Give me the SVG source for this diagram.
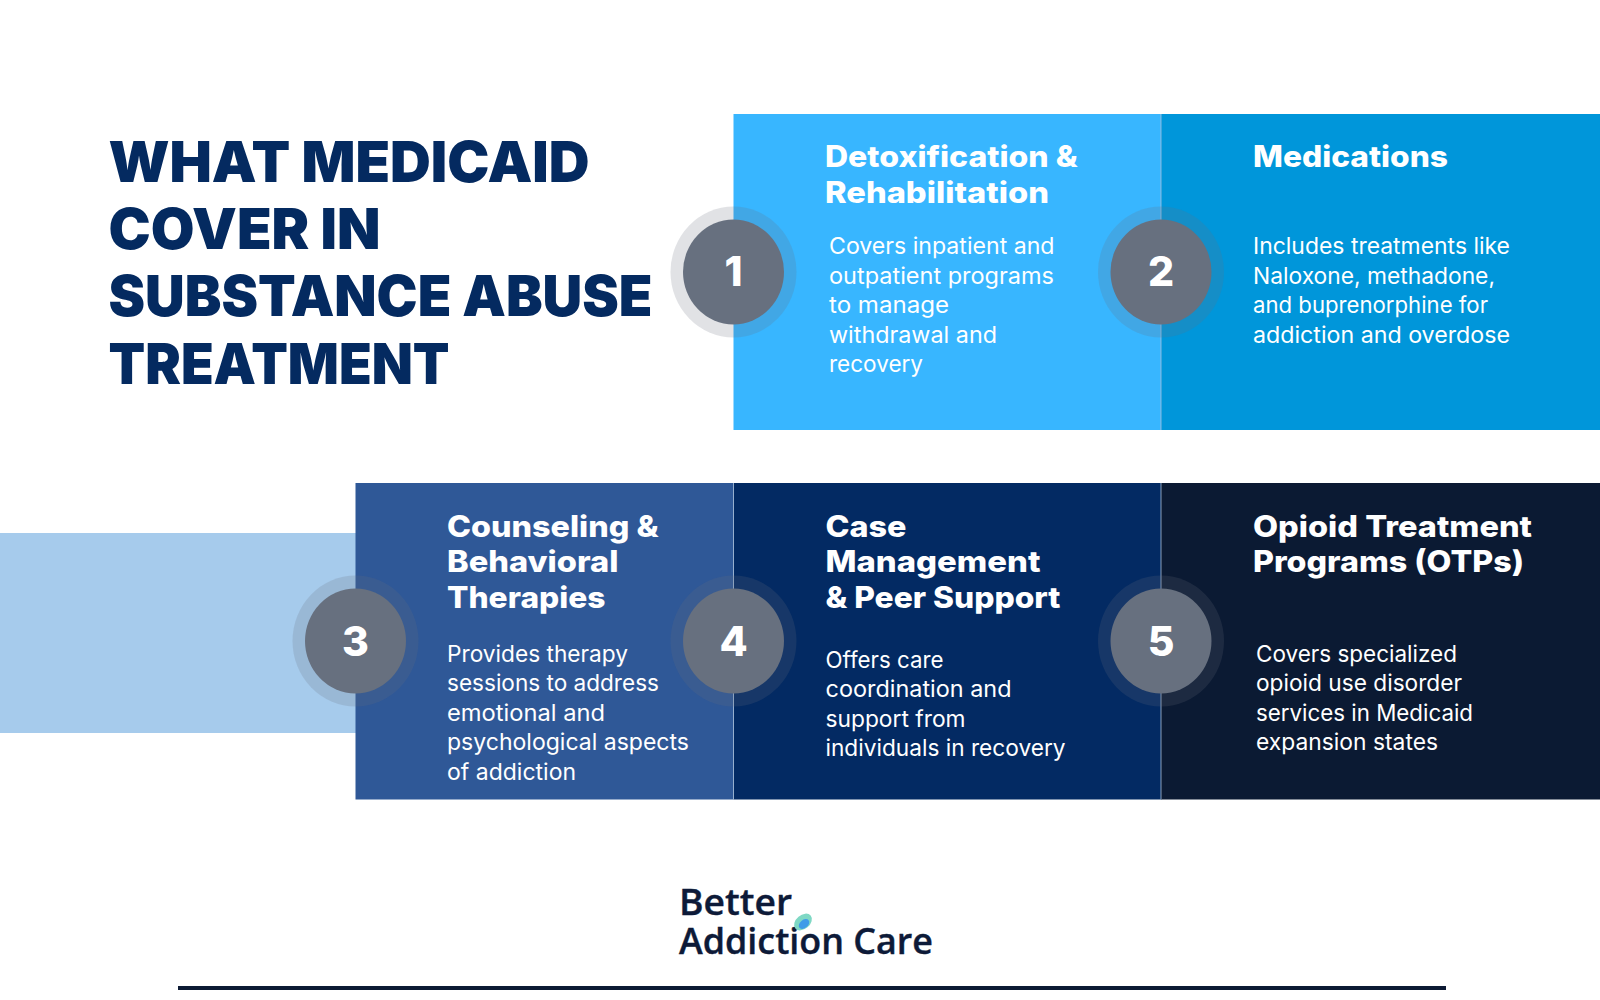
<svg xmlns="http://www.w3.org/2000/svg" width="1600" height="1000" viewBox="0 0 1600 1000">
<style>
text{font-family:Inter,"Noto Sans","Liberation Sans",sans-serif}
.h{font-size:57px;font-weight:900;fill:#042a60}
.t{font-size:29.500px;font-weight:800;fill:#fff}
.b{font-size:22.500px;font-weight:400;fill:#fff}
.n{font-size:41px;font-weight:800;fill:#fff;text-anchor:middle}
.halo{fill:#67707f;fill-opacity:.2}
.c{fill:#67707f}
.sep{stroke:#a9c0dc;stroke-width:1;stroke-opacity:.8}
.l{font-family:"Open Sans","Noto Sans",sans-serif;font-size:36px;font-weight:600;fill:#0d1a38;stroke:#0d1a38;stroke-width:.4}
</style>
<rect width="1600" height="1000" fill="#fff"/>
<g id="title">
<text class="h" x="108.500" y="182" textLength="481" lengthAdjust="spacingAndGlyphs">WHAT MEDICAID</text>
<text class="h" x="108.500" y="249" textLength="272" lengthAdjust="spacingAndGlyphs">COVER IN</text>
<text class="h" x="108.500" y="316" textLength="544" lengthAdjust="spacingAndGlyphs">SUBSTANCE ABUSE</text>
<text class="h" x="108.500" y="384" textLength="341" lengthAdjust="spacingAndGlyphs">TREATMENT</text>
</g>
<rect id="band" x="0" y="533" width="356" height="200" fill="#a6cbec"/>
<g id="card1"><rect x="733.500" y="114" width="428" height="316" fill="#38b6ff"/>
<text class="t" x="825" y="167" textLength="252.500" lengthAdjust="spacingAndGlyphs">Detoxification &amp;</text>
<text class="t" x="825" y="203" textLength="224" lengthAdjust="spacingAndGlyphs">Rehabilitation</text>
<text class="b" x="829" y="254" textLength="225.500" lengthAdjust="spacingAndGlyphs">Covers inpatient and</text>
<text class="b" x="829" y="284" textLength="225" lengthAdjust="spacingAndGlyphs">outpatient programs</text>
<text class="b" x="829" y="313" textLength="120" lengthAdjust="spacingAndGlyphs">to manage</text>
<text class="b" x="829" y="343" textLength="168" lengthAdjust="spacingAndGlyphs">withdrawal and</text>
<text class="b" x="829" y="372" textLength="94" lengthAdjust="spacingAndGlyphs">recovery</text></g>
<g id="card2"><rect x="1161" y="114" width="439" height="316" fill="#0096da"/>
<line class="sep" x1="1161" y1="114" x2="1161" y2="430"/>
<text class="t" x="1253" y="167" textLength="195" lengthAdjust="spacingAndGlyphs">Medications</text>
<text class="b" x="1253" y="254" textLength="257" lengthAdjust="spacingAndGlyphs">Includes treatments like</text>
<text class="b" x="1253" y="284" textLength="242" lengthAdjust="spacingAndGlyphs">Naloxone, methadone,</text>
<text class="b" x="1253" y="313" textLength="235" lengthAdjust="spacingAndGlyphs">and buprenorphine for</text>
<text class="b" x="1253" y="343" textLength="257" lengthAdjust="spacingAndGlyphs">addiction and overdose</text></g>
<g id="card3"><rect x="355.500" y="483" width="378" height="316.500" fill="#2f5897"/>
<text class="t" x="447" y="537" textLength="211.500" lengthAdjust="spacingAndGlyphs">Counseling &amp;</text>
<text class="t" x="447" y="572" textLength="171.500" lengthAdjust="spacingAndGlyphs">Behavioral</text>
<text class="t" x="447" y="608" textLength="158.500" lengthAdjust="spacingAndGlyphs">Therapies</text>
<text class="b" x="447" y="662" textLength="181" lengthAdjust="spacingAndGlyphs">Provides therapy</text>
<text class="b" x="447" y="691" textLength="212" lengthAdjust="spacingAndGlyphs">sessions to address</text>
<text class="b" x="447" y="721" textLength="158" lengthAdjust="spacingAndGlyphs">emotional and</text>
<text class="b" x="447" y="750" textLength="242" lengthAdjust="spacingAndGlyphs">psychological aspects</text>
<text class="b" x="447" y="780" textLength="129" lengthAdjust="spacingAndGlyphs">of addiction</text></g>
<g id="card4"><rect x="733.500" y="483" width="428" height="316.500" fill="#032a63"/>
<line class="sep" x1="733.500" y1="483" x2="733.500" y2="799.500"/>
<text class="t" x="825.500" y="537" textLength="81" lengthAdjust="spacingAndGlyphs">Case</text>
<text class="t" x="825.500" y="572" textLength="215" lengthAdjust="spacingAndGlyphs">Management</text>
<text class="t" x="825.500" y="608" textLength="235" lengthAdjust="spacingAndGlyphs">&amp; Peer Support</text>
<text class="b" x="825.500" y="668" textLength="118" lengthAdjust="spacingAndGlyphs">Offers care</text>
<text class="b" x="825.500" y="697" textLength="186" lengthAdjust="spacingAndGlyphs">coordination and</text>
<text class="b" x="825.500" y="727" textLength="140" lengthAdjust="spacingAndGlyphs">support from</text>
<text class="b" x="825.500" y="756" textLength="240" lengthAdjust="spacingAndGlyphs">individuals in recovery</text></g>
<g id="card5"><rect x="1161" y="483" width="439" height="316.500" fill="#0b1a33"/>
<line class="sep" x1="1161" y1="483" x2="1161" y2="799.500"/>
<text class="t" x="1253" y="537" textLength="279" lengthAdjust="spacingAndGlyphs">Opioid Treatment</text>
<text class="t" x="1253" y="572" textLength="271" lengthAdjust="spacingAndGlyphs">Programs (OTPs)</text>
<text class="b" x="1256" y="662" textLength="201" lengthAdjust="spacingAndGlyphs">Covers specialized</text>
<text class="b" x="1256" y="691" textLength="206" lengthAdjust="spacingAndGlyphs">opioid use disorder</text>
<text class="b" x="1256" y="721" textLength="217" lengthAdjust="spacingAndGlyphs">services in Medicaid</text>
<text class="b" x="1256" y="750" textLength="182" lengthAdjust="spacingAndGlyphs">expansion states</text></g>
<g id="badge1"><ellipse class="halo" cx="733.500" cy="272" rx="63" ry="65.500"/><ellipse class="c" cx="733.500" cy="272" rx="50.500" ry="52.500"/><text class="n" x="733.500" y="286">1</text></g>
<g id="badge2"><ellipse class="halo" cx="1161" cy="272" rx="63" ry="65.500"/><ellipse class="c" cx="1161" cy="272" rx="50.500" ry="52.500"/><text class="n" x="1161" y="286">2</text></g>
<g id="badge3"><ellipse class="halo" cx="355.500" cy="641" rx="63" ry="65.500"/><ellipse class="c" cx="355.500" cy="641" rx="50.500" ry="52.500"/><text class="n" x="355.500" y="656">3</text></g>
<g id="badge4"><ellipse class="halo" cx="733.500" cy="641" rx="63" ry="65.500"/><ellipse class="c" cx="733.500" cy="641" rx="50.500" ry="52.500"/><text class="n" x="733.500" y="656">4</text></g>
<g id="badge5"><ellipse class="halo" cx="1161" cy="641" rx="63" ry="65.500"/><ellipse class="c" cx="1161" cy="641" rx="50.500" ry="52.500"/><text class="n" x="1161" y="656">5</text></g>
<g id="logo">
<text class="l" x="679" y="915" textLength="113" lengthAdjust="spacingAndGlyphs">Better</text>
<text class="l" x="679" y="954" textLength="254" lengthAdjust="spacingAndGlyphs">Addiction Care</text>
<ellipse cx="803" cy="922" rx="10" ry="7" transform="rotate(-40 803 922)" fill="#7fd8c4"/>
<ellipse cx="804" cy="924" rx="6" ry="4" transform="rotate(-40 804 924)" fill="#3f9ce8"/>
<rect x="178" y="986" width="1268" height="4" fill="#0c1a33"/>
</g>
</svg>
